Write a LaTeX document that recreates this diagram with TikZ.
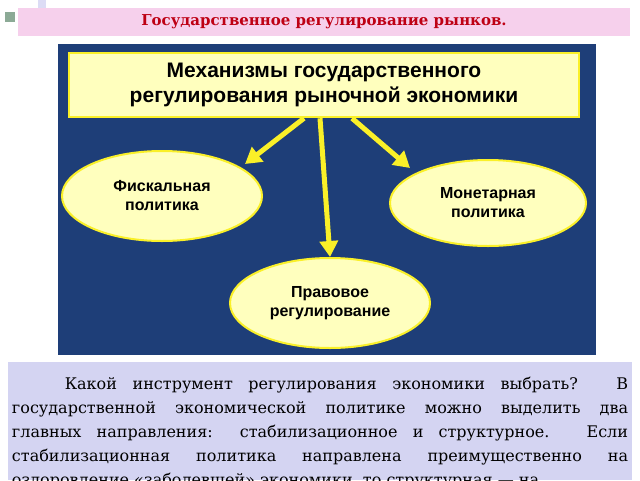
\documentclass[tikz,border=0pt]{standalone}
\usepackage{fontspec}
\setmainfont{DejaVu Serif}
\newfontfamily\headfont{Liberation Sans}
\usetikzlibrary{arrows.meta,shapes.geometric}
\definecolor{bandpink}{RGB}{246,208,236}
\definecolor{titlered}{RGB}{190,0,20}
\definecolor{panelblue}{RGB}{30,62,120}
\definecolor{boxyellow}{RGB}{255,255,190}
\definecolor{edgeyellow}{RGB}{250,240,40}
\definecolor{textlav}{RGB}{212,212,242}
\tikzset{every picture/.style={line width=0.75pt},
  oval/.style={ellipse, draw=edgeyellow, line width=2pt, fill=boxyellow, font=\headfont\bfseries\fontsize{16}{19}\selectfont, align=center},
  feed/.style={edgeyellow, line width=5pt, -{Triangle[length=16pt,width=18pt]}}}
\begin{document}
\begin{tikzpicture}[x=1pt,y=1pt,yscale=-1,xscale=1]
		\useasboundingbox (0,0) rectangle (640,480);
		%Decorations
		\fill [color={rgb,255:red,220;green,220;blue,245}] (38,0) rectangle (46,10);
		\fill [color={rgb,255:red,140;green,170;blue,150}] (5,12) rectangle (15,22);
		%Title band
		\fill [bandpink] (18,8) rectangle (630,36);
		\node (title) at (324,22) [text=titlered, font=\bfseries\fontsize{15}{17}\selectfont] {Государственное регулирование рынков.};
		%Panel
		\fill [panelblue] (58,44) rectangle (596,355);
		%Main box
		\node (main) at (324,85) [draw=edgeyellow, line width=2.5pt, fill=boxyellow, minimum width=510pt, minimum height=64pt, align=center, font=\headfont\bfseries\fontsize{21}{25}\selectfont] {Механизмы государственного\\регулирования рыночной экономики};
		%Ovals
		\node (fisc) at (162,196) [oval, minimum width=200pt, minimum height=90pt] {Фискальная\\политика};
		\node (monet) at (488,203) [oval, minimum width=196pt, minimum height=86pt] {Монетарная\\политика};
		\node (legal) at (330,303) [oval, minimum width=200pt, minimum height=90pt] {Правовое\\регулирование};
		%Arrows
		\draw [feed] ([xshift=-20pt]main.south) -- (245,164);
		\draw [feed] ([xshift=28pt]main.south) -- (410,168);
		\draw [feed] ([xshift=-4pt]main.south) -- (legal.north);
		%Text
		\fill [textlav] (8,362) rectangle (632,480);
		\node (note) at (320,433) [text width=616pt, align=justify, font=\fontsize{16}{24}\selectfont] {\hspace*{3.3em}Какой инструмент регулирования экономики выбрать? В государственной экономической политике можно выделить два главных направления: стабилизационное и структурное. Если стабилизационная политика направлена преимущественно на оздоровление «заболевшей» экономики, то структурная — на};
\end{tikzpicture}
\end{document}
